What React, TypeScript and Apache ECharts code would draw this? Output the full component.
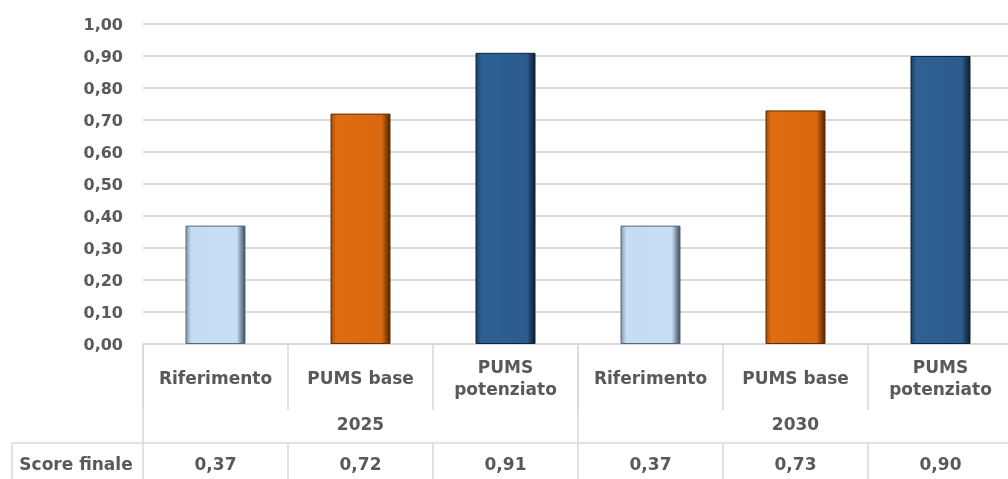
import React, { useEffect, useRef } from "react";
import * as echarts from "echarts";

const categories = ["Riferimento", "PUMS base", "PUMS\npotenziato", "Riferimento", "PUMS base", "PUMS\npotenziato"];
const kinds = ["rif", "base", "pot", "rif", "base", "pot"];
const years = ["2025", "2030"];
const scores = [0.37, 0.72, 0.91, 0.37, 0.73, 0.9];
const rowLabel = "Score finale";
const yMin = 0;
const yMax = 1;
const yStep = 0.1;

const fmt = (v: number) => v.toFixed(2).replace(".", ",");

const grad = (left: string, fill: string, fill2: string, right: string) =>
  new echarts.graphic.LinearGradient(0, 0, 1, 0, [
    { offset: 0, color: left },
    { offset: 0.09, color: fill },
    { offset: 0.86, color: fill2 },
    { offset: 1, color: right },
  ]);

export default function App() {
  const ref = useRef<HTMLDivElement>(null);
  useEffect(() => {
    if (!ref.current) return;
    const chart = echarts.init(ref.current, null, { renderer: "svg" });
    const font = "DejaVu Sans";
    const textColor = "#595959";
    const lineColor = "#d9d9d9";
    const txt = { color: textColor, fontFamily: font, fontWeight: "bold" as const, fontSize: 16 };
    const tableTxt = { ...txt, fontSize: 17 };
    const styles: Record<string, any> = {
      rif: { color: grad("#8398aa", "#c4ddf3", "#c7dff4", "#3f4d5a"), borderColor: "#56687a", borderWidth: 1 },
      base: { color: grad("#a44c08", "#df6c10", "#d9680f", "#4f2504"), borderColor: "#5e2c05", borderWidth: 1 },
      pot: { color: grad("#1d3e62", "#2f6094", "#2c5c8e", "#0e1e31"), borderColor: "#0f2238", borderWidth: 1 },
    };
    const tickStyle = { color: lineColor, width: 1.5 };
    chart.setOption({
      animation: false,
      grid: { left: 143, width: 870, top: 24, bottom: 135, containLabel: false, outerBoundsMode: "none" },
      xAxis: [
        {
          type: "category",
          data: categories,
          position: "bottom",
          axisLine: { show: true, onZero: false, lineStyle: tickStyle },
          axisTick: { show: true, interval: 0, length: 66, lineStyle: tickStyle },
          axisLabel: { interval: 0, margin: 34, verticalAlign: "middle", lineHeight: 22, ...tableTxt },
        },
        {
          type: "category",
          data: years,
          position: "bottom",
          axisLine: { show: false, onZero: false },
          axisTick: { show: true, interval: 0, length: 99, lineStyle: tickStyle },
          axisLabel: { interval: 0, margin: 80, verticalAlign: "middle", ...tableTxt },
        },
        {
          type: "category",
          data: scores.map(fmt),
          position: "bottom",
          offset: 99,
          axisLine: { show: true, onZero: false, lineStyle: tickStyle },
          axisTick: { show: true, interval: 0, length: 40, lineStyle: tickStyle },
          axisLabel: { interval: 0, margin: 21, verticalAlign: "middle", ...tableTxt },
        },
      ],
      yAxis: {
        type: "value",
        min: yMin,
        max: yMax,
        interval: yStep,
        axisLine: { show: false },
        axisTick: { show: false },
        splitLine: { lineStyle: { color: lineColor, width: 2 } },
        axisLabel: { formatter: fmt, margin: 20, ...txt },
      },
      series: [
        {
          type: "bar",
          xAxisIndex: 0,
          barWidth: 60,
          data: scores.map((v, i) => ({ value: v, itemStyle: styles[kinds[i]] })),
        },
      ],
      graphic: [
        {
          type: "line",
          shape: { x1: 12, y1: 443, x2: 143, y2: 443 },
          style: { stroke: lineColor, lineWidth: 1.5 },
        },
        {
          type: "line",
          shape: { x1: 12, y1: 443, x2: 12, y2: 479 },
          style: { stroke: lineColor, lineWidth: 1.5 },
        },
        {
          type: "text",
          x: 76,
          y: 464,
          style: {
            text: rowLabel,
            fill: textColor,
            font: `bold 17px "${font}"`,
            textAlign: "center",
            textVerticalAlign: "middle",
          },
        },
      ],
    });
    return () => chart.dispose();
  }, []);
  return <div ref={ref} style={{ position: "fixed", left: 0, top: 0, width: 1008, height: 479 }} />;
}
